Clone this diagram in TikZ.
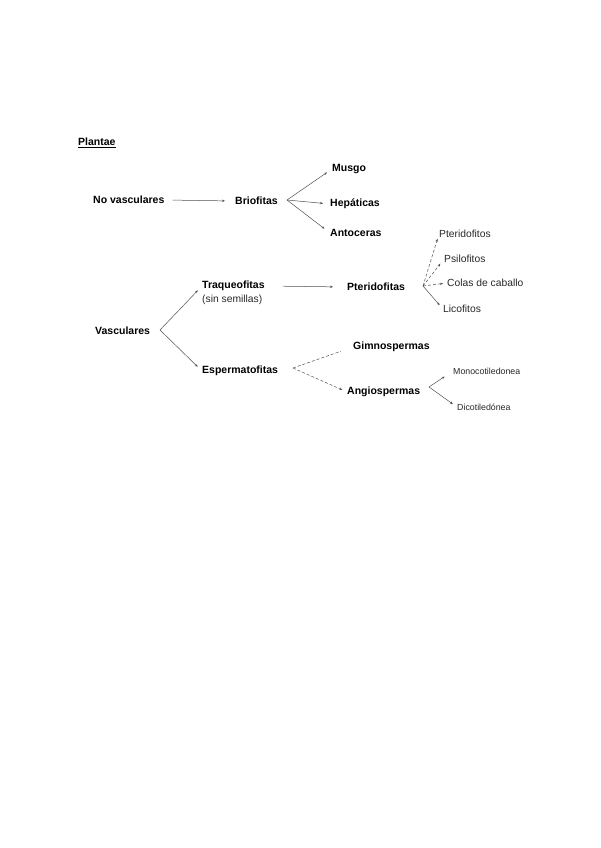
\documentclass[tikz,border=0pt]{standalone}
\usepackage{fontspec}
\setmainfont{Liberation Sans}
\usetikzlibrary{arrows.meta}
\definecolor{lin}{RGB}{80,80,80}
\definecolor{txt}{RGB}{40,40,40}
\tikzset{
  bt/.style={anchor=west, inner sep=0pt, font=\bfseries\fontsize{10.5}{12}\selectfont, text=black},
  rt/.style={anchor=west, inner sep=0pt, font=\fontsize{10.3}{12}\selectfont, text=txt},
  st/.style={anchor=west, inner sep=0pt, font=\fontsize{8.8}{10}\selectfont, text=txt},
  con/.style={draw=lin, line width=0.5pt, -{Stealth[length=3pt,width=2.4pt]}},
  dcon/.style={con, densely dashed},
}
\begin{document}
\begin{tikzpicture}[x=1pt,y=-1pt]
\useasboundingbox[fill=white] (0,0) rectangle (600,848);
% title
\node[bt] (plantae) at (78,143) {\underline{Plantae}};
% no vasculares
\node[bt] (novasc) at (93,200) {No vasculares};
\node[bt] (brio) at (235,201) {Briofitas};
\node[bt] (musgo) at (332,169) {Musgo};
\node[bt] (hepa) at (330,204) {Hepáticas};
\node[bt] (anto) at (330,233) {Antoceras};
\coordinate (fb) at (287,200);
\draw[con, shorten <=8pt, shorten >=10pt] (novasc.east) -- (brio.west);
\draw[con, shorten >=6pt] (fb) -- (musgo.west);
\draw[con, shorten >=7pt] (fb) -- (hepa.west);
\draw[con, shorten >=7pt] (fb) -- (anto.west);
% vasculares
\node[bt] (vasc) at (95,331) {Vasculares};
\coordinate (fv) at (160,330);
\node[bt] (traq) at (202,286) {Traqueofitas};
\node[rt] (sin) at (202,300) {(sin semillas)};
\node[bt] (esper) at (202,371) {Espermatofitas};
\draw[con, shorten >=6pt] (fv) -- (traq.west);
\draw[con, shorten >=6pt] (fv) -- (esper.west);
% pteridofitas
\node[bt] (pter) at (347,287) {Pteridofitas};
\draw[con, shorten <=18pt, shorten >=14pt] (traq.east) -- (pter.west);
\coordinate (fp) at (423,286);
\node[rt] (pteri) at (439,234) {Pteridofitos};
\node[rt] (psilo) at (444,259) {Psilofitos};
\node[rt] (colas) at (447,283) {Colas de caballo};
\node[rt] (lico) at (443,309) {Licofitos};
\draw[dcon, shorten >=5pt] (fp) -- (pteri.west);
\draw[dcon, shorten >=6pt] (fp) -- (psilo.west);
\draw[dcon, shorten >=4pt] (fp) -- (colas.west);
\draw[con, shorten >=5pt] (fp) -- (lico.west);
% espermatofitas
\coordinate (fe) at (293,368);
\node[bt] (gimno) at (353,347) {Gimnospermas};
\node[bt] (angio) at (347,392) {Angiospermas};
\draw[draw=lin, line width=0.5pt, densely dashed, shorten >=13pt] (fe) -- (gimno.west);
\draw[dcon, shorten >=5pt] (fe) -- (angio.west);
% angiospermas
\coordinate (fa) at (429,387);
\node[st] (mono) at (453,371) {Monocotiledonea};
\node[st] (dico) at (457,407) {Dicotiledónea};
\draw[con, shorten >=10pt] (fa) -- (mono.west);
\draw[con, shorten >=5pt] (fa) -- (dico.west);
\end{tikzpicture}
\end{document}
